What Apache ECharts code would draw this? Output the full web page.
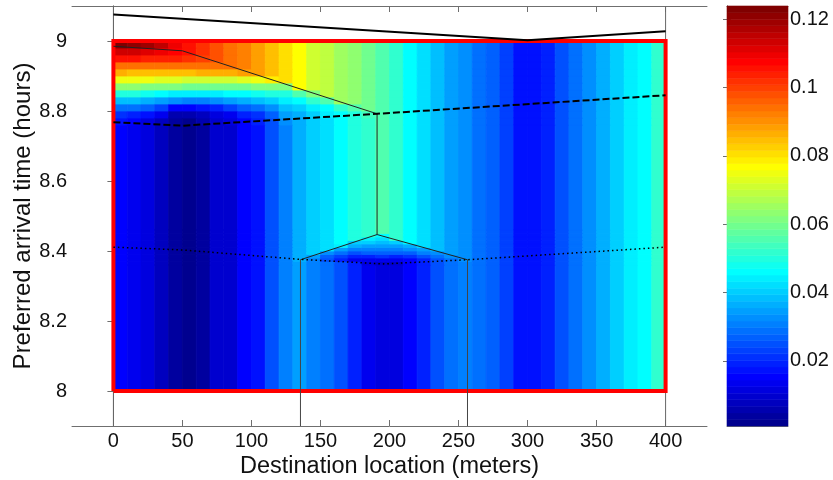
<!DOCTYPE html>
<html>
<head>
<meta charset="utf-8">
<script src="https://cdn.jsdelivr.net/npm/echarts@6/dist/echarts.min.js"></script>
<style>html,body{margin:0;padding:0;background:#fff}#chart{width:833px;height:480px}</style>
</head>
<body>
<div id="chart"></div>
<script>
// ---------------- data ----------------
const xTicks = [0, 50, 100, 150, 200, 250, 300, 350, 400];
const yTicks = [8, 8.2, 8.4, 8.6, 8.8, 9];
const cbTicks = [0.02, 0.04, 0.06, 0.08, 0.1, 0.12];
const cbMin = 0.0009, cbMax = 0.1239;

// column centres (m), each column 10 m wide
const xCenters = [5,15,25,35,45,55,65,75,85,95,105,115,125,135,145,155,165,175,185,195,
                  205,215,225,235,245,255,265,275,285,295,305,315,325,335,345,355,365,375,385,395];

// value of each column in the lower band (8.00 - 8.36 h)
const lowerVals = [0.0155,0.0134,0.011,0.007,0.003,0.002,0.0045,0.009,0.0105,0.015,0.018,0.024,0.031,
                   0.034,0.031,0.0285,0.024,0.019,0.014,0.011,0.012,0.0155,0.019,0.025,0.028,0.031,
                   0.029,0.026,0.0225,0.017,0.0165,0.020,0.0245,0.028,0.032,0.036,0.041,0.044,0.047,0.052];

// value of each column in the middle band (8.46 - 8.76 h)
const midVals = [0.0155,0.0134,0.011,0.007,0.003,0.002,0.0045,0.009,0.0105,0.015,0.018,0.024,0.031,
                 0.036,0.040,0.042,0.046,0.049,0.052,0.055,0.051,0.046,0.042,0.038,0.035,0.032,
                 0.029,0.026,0.0225,0.017,0.0165,0.020,0.0245,0.028,0.032,0.036,0.041,0.044,0.047,0.052];

// cap zone rows (8.36 - 8.46 h), columns 135..255 m
const capEdges = [8.36,8.37,8.38,8.39,8.40,8.41,8.42,8.43,8.44,8.45,8.46];
const capVals = [
  [0.034,0.031,0.0285,0.024,0.019,0.011,0.010,0.010,0.0155,0.019,0.025,0.028,0.031],
  [0.036,0.030,0.024,0.020,0.014,0.013,0.014,0.014,0.015,0.019,0.024,0.029,0.032],
  [0.036,0.034,0.027,0.023,0.019,0.020,0.021,0.020,0.021,0.024,0.029,0.032,0.032],
  [0.036,0.040,0.033,0.029,0.025,0.026,0.027,0.026,0.027,0.030,0.033,0.035,0.032],
  [0.036,0.040,0.042,0.034,0.030,0.031,0.031,0.031,0.032,0.035,0.038,0.035,0.032],
  [0.036,0.040,0.042,0.044,0.036,0.035,0.035,0.035,0.037,0.042,0.038,0.035,0.032],
  [0.036,0.040,0.042,0.046,0.041,0.040,0.039,0.040,0.046,0.042,0.038,0.035,0.032],
  [0.036,0.040,0.042,0.046,0.049,0.044,0.043,0.051,0.046,0.042,0.038,0.035,0.032],
  [0.036,0.040,0.042,0.046,0.049,0.052,0.047,0.051,0.046,0.042,0.038,0.035,0.032],
  [0.036,0.040,0.042,0.046,0.049,0.052,0.055,0.051,0.046,0.042,0.038,0.035,0.032]
];

// upper zone rows (8.76 - 9.00 h), columns 5..185 m
const topEdges = [8.76,8.78,8.80,8.82,8.84,8.86,8.88,8.90,8.92,8.94,8.96,8.98,9.00];
const topVals = [
  [0.017,0.015,0.012,0.008,0.003,0.002,0.005,0.009,0.011,0.016,0.019,0.025,0.032,0.036,0.040,0.042,0.046,0.049,0.052],
  [0.021,0.020,0.018,0.013,0.006,0.005,0.008,0.011,0.014,0.019,0.022,0.027,0.035,0.037,0.041,0.044,0.047,0.050,0.054],
  [0.029,0.028,0.027,0.023,0.016,0.015,0.017,0.020,0.023,0.027,0.029,0.032,0.039,0.040,0.044,0.047,0.051,0.055,0.060],
  [0.039,0.038,0.037,0.035,0.032,0.031,0.031,0.033,0.035,0.037,0.038,0.040,0.044,0.046,0.051,0.055,0.066,0.063,0.060],
  [0.050,0.049,0.048,0.047,0.045,0.044,0.044,0.045,0.046,0.047,0.048,0.050,0.050,0.056,0.062,0.069,0.066,0.063,0.060],
  [0.064,0.063,0.062,0.061,0.061,0.060,0.060,0.060,0.060,0.060,0.061,0.062,0.062,0.077,0.072,0.069,0.066,0.063,0.060],
  [0.075,0.074,0.074,0.073,0.073,0.072,0.072,0.072,0.072,0.073,0.074,0.078,0.080,0.077,0.072,0.069,0.066,0.063,0.060],
  [0.086,0.085,0.084,0.084,0.085,0.085,0.086,0.086,0.087,0.088,0.088,0.084,0.080,0.077,0.072,0.069,0.066,0.063,0.060],
  [0.095,0.094,0.094,0.094,0.095,0.094,0.094,0.094,0.095,0.092,0.088,0.084,0.080,0.077,0.072,0.069,0.066,0.063,0.060],
  [0.106,0.105,0.104,0.103,0.104,0.102,0.100,0.0975,0.095,0.092,0.088,0.084,0.080,0.077,0.072,0.069,0.066,0.063,0.060],
  [0.114,0.113,0.112,0.110,0.108,0.105,0.101,0.0975,0.095,0.092,0.088,0.084,0.080,0.077,0.072,0.069,0.066,0.063,0.060],
  [0.123,0.121,0.119,0.115,0.110,0.105,0.101,0.0975,0.095,0.092,0.088,0.084,0.080,0.077,0.072,0.069,0.066,0.063,0.060]
];

// black lines (x in m, y in h)
const topLineX = [0, 300, 400],            topLineY = [9.076, 9.002, 9.028];
const thinLineX = [0, 50, 191],            thinLineY = [8.985, 8.972, 8.792];
const midVertX = [191, 191],               midVertY = [8.792, 8.447];
const tentX = [135.5, 191, 256.5],         tentY = [8.375, 8.447, 8.375];
const dropLX = [135.5, 135.5],             dropLY = [8.375, 7.9];
const dropRX = [256.5, 256.5],             dropRY = [8.375, 7.9];
const dashX = [0, 50, 191, 400],           dashY = [8.768, 8.758, 8.792, 8.845];
const dotX = [0, 50, 135.5, 195, 256.5, 400], dotY = [8.411, 8.403, 8.376, 8.363, 8.375, 8.411];
const edgeLX = [0, 0],                     edgeLY = [7.9, 9.1];
const edgeRX = [400, 400],                 edgeRY = [7.9, 9.1];
const boxX = [0, 400, 400, 0, 0],          boxY = [8, 8, 9, 9, 8];

// ---------------- colour map (MATLAB jet, 64) ----------------
function jet(m) {
  const n = Math.ceil(m / 4), u = [];
  for (let i = 1; i <= n; i++) u.push(i / n);
  for (let i = 0; i < n - 1; i++) u.push(1);
  for (let i = n; i >= 1; i--) u.push(i / n);
  const g0 = Math.ceil(n / 2) - (m % 4 === 1 ? 1 : 0);
  const J = Array.from({length: m}, () => [0, 0, 0]);
  for (let k = 0; k < u.length; k++) {
    const g = g0 + k + 1, r = g + n, b = g - n;
    if (r >= 1 && r <= m) J[r - 1][0] = u[k];
    if (g >= 1 && g <= m) J[g - 1][1] = u[k];
    if (b >= 1 && b <= m) J[b - 1][2] = u[k];
  }
  return J.map(c => 'rgb(' + c.map(x => Math.round(x * 255)).join(',') + ')');
}
const NC = 64;
const cmap = jet(NC);
function colorOf(v) {
  let i = Math.floor((v - cbMin) / (cbMax - cbMin) * NC);
  return cmap[Math.max(0, Math.min(NC - 1, i))];
}

// ---------------- build cells ----------------
const cells = [];
function pushRow(y0, y1, vals) {
  vals.forEach((v, i) => cells.push([xCenters[i] - 5, xCenters[i] + 5, y0, y1, v]));
}
pushRow(8.0, 8.36, lowerVals);
capVals.forEach((r, k) => pushRow(capEdges[k], capEdges[k + 1], lowerVals.slice(0, 13).concat(r, lowerVals.slice(26))));
pushRow(8.46, 8.76, midVals);
topVals.forEach((r, k) => pushRow(topEdges[k], topEdges[k + 1], r.concat(midVals.slice(19))));

const cbCells = [];
for (let i = 0; i < NC; i++) cbCells.push([0, 1, cbMin + i * (cbMax - cbMin) / NC, cbMin + (i + 1) * (cbMax - cbMin) / NC, i]);

const zip = (xs, ys) => xs.map((x, i) => [x, ys[i]]);

// ---------------- chart ----------------
const FONT = '"Liberation Sans", Arial, sans-serif';
const AX = '#6f6f6f', TXT = '#111';
const fmt = v => String(parseFloat((+v).toFixed(3)));

function lineSeries(xs, ys, style, z) {
  return {type: 'line', xAxisIndex: 0, yAxisIndex: 0, data: zip(xs, ys), symbol: 'none',
          silent: true, z: z, lineStyle: style, clip: false};
}

const chart = echarts.init(document.getElementById('chart'), null, {renderer: 'canvas'});
chart.setOption({
  animation: false,
  backgroundColor: '#fff',
  textStyle: {fontFamily: FONT},
  grid: [
    {left: 72, top: 6, width: 635, height: 420, containLabel: false, outerBoundsMode: 'none'},
    {left: 727, top: 6, width: 61, height: 420, containLabel: false, outerBoundsMode: 'none'}
  ],
  xAxis: [
    {gridIndex: 0, type: 'value', position: 'bottom', min: -30, max: 430,
     axisLine: {show: true, lineStyle: {color: AX}},
     axisTick: {show: true, inside: true, length: 6, lineStyle: {color: AX}, customValues: xTicks},
     axisLabel: {show: true, customValues: xTicks, fontSize: 20, color: TXT, margin: 5, fontFamily: FONT, formatter: fmt},
     splitLine: {show: false},
     name: 'Destination location (meters)', nameLocation: 'middle', nameGap: 29, nameMoveOverlap: false,
     nameTextStyle: {fontSize: 23.5, color: TXT, fontFamily: FONT}},
    {gridIndex: 0, type: 'value', position: 'top', min: -30, max: 430,
     axisLine: {show: true, lineStyle: {color: AX}},
     axisTick: {show: true, inside: true, length: 6, lineStyle: {color: AX}, customValues: xTicks},
     axisLabel: {show: false}, splitLine: {show: false}},
    {gridIndex: 1, type: 'value', position: 'bottom', min: 0, max: 1,
     axisLine: {show: true, lineStyle: {color: AX}}, axisTick: {show: false},
     axisLabel: {show: false}, splitLine: {show: false}},
    {gridIndex: 1, type: 'value', position: 'top', min: 0, max: 1,
     axisLine: {show: true, lineStyle: {color: AX}}, axisTick: {show: false},
     axisLabel: {show: false}, splitLine: {show: false}}
  ],
  yAxis: [
    {gridIndex: 0, type: 'value', position: 'left', min: 7.9, max: 9.1,
     axisLine: {show: true, lineStyle: {color: AX}},
     axisTick: {show: true, inside: true, length: 6, lineStyle: {color: AX}, customValues: yTicks},
     axisLabel: {show: true, customValues: yTicks, fontSize: 20, color: TXT, margin: 5, fontFamily: FONT, formatter: fmt},
     splitLine: {show: false},
     name: 'Preferred arrival time (hours)', nameLocation: 'middle', nameGap: 37, nameMoveOverlap: false,
     nameTextStyle: {fontSize: 24, color: TXT, fontFamily: FONT}},
    {gridIndex: 0, type: 'value', position: 'right', min: 7.9, max: 9.1,
     axisLine: {show: true, lineStyle: {color: AX}},
     axisTick: {show: true, inside: true, length: 6, lineStyle: {color: AX}, customValues: yTicks},
     axisLabel: {show: false}, splitLine: {show: false}},
    {gridIndex: 1, type: 'value', position: 'left', min: cbMin, max: cbMax,
     axisLine: {show: true, lineStyle: {color: AX}},
     axisTick: {show: true, inside: true, length: 4, lineStyle: {color: AX}, customValues: cbTicks},
     axisLabel: {show: false}, splitLine: {show: false}},
    {gridIndex: 1, type: 'value', position: 'right', min: cbMin, max: cbMax,
     axisLine: {show: true, lineStyle: {color: AX}},
     axisTick: {show: true, inside: true, length: 4, lineStyle: {color: AX}, customValues: cbTicks},
     axisLabel: {show: true, customValues: cbTicks, fontSize: 20, color: TXT, margin: 2, fontFamily: FONT, formatter: fmt},
     splitLine: {show: false}}
  ],
  series: [
    {type: 'custom', xAxisIndex: 0, yAxisIndex: 0, data: cells, encode: {x: [0, 1], y: [2, 3]},
     silent: true, z: 1,
     renderItem: function (params, api) {
       const a = api.coord([api.value(0), api.value(3)]);
       const b = api.coord([api.value(1), api.value(2)]);
       const c = colorOf(api.value(4));
       return {type: 'rect', shape: {x: a[0], y: a[1], width: b[0] - a[0], height: b[1] - a[1]},
               style: {fill: c, stroke: c, lineWidth: 0.8}};
     }},
    {type: 'custom', xAxisIndex: 2, yAxisIndex: 2, data: cbCells, encode: {x: [0, 1], y: [2, 3]},
     silent: true, z: 1,
     renderItem: function (params, api) {
       const a = api.coord([api.value(0), api.value(3)]);
       const b = api.coord([api.value(1), api.value(2)]);
       const c = cmap[api.value(4)];
       return {type: 'rect', shape: {x: a[0], y: a[1], width: b[0] - a[0], height: b[1] - a[1]},
               style: {fill: c, stroke: c, lineWidth: 0.6}};
     }},
    lineSeries(edgeLX, edgeLY, {color: '#666', width: 1}, 2),
    lineSeries(edgeRX, edgeRY, {color: '#666', width: 1}, 2),
    lineSeries(boxX, boxY, {color: '#ff0000', width: 4, join: 'miter'}, 3),
    lineSeries(topLineX, topLineY, {color: '#000', width: 2}, 4),
    lineSeries(thinLineX, thinLineY, {color: '#222', width: 1}, 4),
    lineSeries(midVertX, midVertY, {color: '#222', width: 1}, 4),
    lineSeries(tentX, tentY, {color: '#222', width: 1}, 4),
    lineSeries(dropLX, dropLY, {color: '#444', width: 1}, 4),
    lineSeries(dropRX, dropRY, {color: '#444', width: 1}, 4),
    lineSeries(dashX, dashY, {color: '#000', width: 2, type: [7, 3]}, 4),
    lineSeries(dotX, dotY, {color: '#000', width: 1.5, type: [1.5, 3]}, 4)
  ]
});
</script>
</body>
</html>
